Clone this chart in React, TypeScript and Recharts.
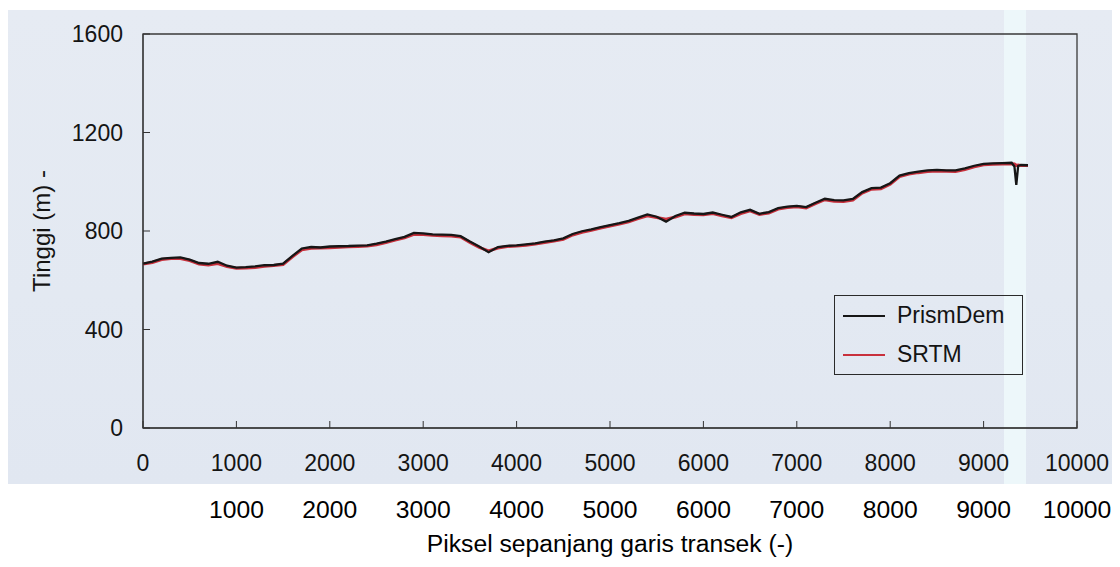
import React from "react";
import { LineChart, Line, XAxis, YAxis, Legend, ReferenceArea } from "recharts";

// pixel index along the transect
const pixels = [
  0, 100, 200, 300, 400, 500, 600, 700, 800, 900,
  1000, 1100, 1200, 1300, 1400, 1500, 1600, 1700, 1800, 1900,
  2000, 2100, 2200, 2300, 2400, 2500, 2600, 2700, 2800, 2900,
  3000, 3100, 3200, 3300, 3400, 3500, 3600, 3700, 3800, 3900,
  4000, 4100, 4200, 4300, 4400, 4500, 4600, 4700, 4800, 4900,
  5000, 5100, 5200, 5300, 5400, 5500, 5600, 5700, 5800, 5900,
  6000, 6100, 6200, 6300, 6400, 6500, 6600, 6700, 6800, 6900,
  7000, 7100, 7200, 7300, 7400, 7500, 7600, 7700, 7800, 7900,
  8000, 8100, 8200, 8300, 8400, 8500, 8600, 8700, 8800, 8900,
  9000, 9100, 9200, 9300, 9330, 9350, 9370, 9400, 9475,
];

const srtm = [
  666, 672, 684, 688, 688, 680, 666, 662, 668, 656,
  649, 650, 652, 657, 660, 664, 695, 724, 730, 731,
  732, 734, 736, 737, 739, 744, 753, 763, 772, 786,
  786, 783, 781, 780, 776, 754, 733, 719, 731, 737,
  739, 742, 747, 753, 759, 766, 784, 795, 803, 812,
  820, 828, 837, 850, 862, 855, 848, 857, 870, 867,
  866, 871, 862, 854, 871, 882, 867, 873, 889, 895,
  898, 894, 911, 927, 921, 920, 926, 954, 970, 972,
  990, 1021, 1031, 1037, 1042, 1044, 1043, 1042, 1050, 1061,
  1069, 1071, 1072, 1073, 1072, 1066, 1068, 1066, 1066,
];

const prismDem = [
  668, 676, 688, 691, 693, 684, 670, 667, 675, 659,
  651, 653, 656, 661, 662, 667, 699, 729, 735, 733,
  737, 738, 739, 741, 742, 749, 757, 767, 776, 792,
  790, 786, 785, 784, 779, 757, 737, 714, 735, 740,
  742, 746, 750, 757, 762, 770, 788, 799, 807, 816,
  824, 832, 841, 854, 867, 858, 838, 861, 874, 871,
  869, 875, 866, 857, 876, 886, 870, 877, 893, 899,
  902, 897, 915, 931, 925, 924, 930, 958, 974, 976,
  994, 1025, 1035, 1041, 1046, 1048, 1046, 1046, 1054, 1065,
  1073, 1075, 1076, 1077, 1062, 987, 1064, 1068, 1067,
];

const xTicks = [0, 1000, 2000, 3000, 4000, 5000, 6000, 7000, 8000, 9000, 10000];
const xTicksLower = [1000, 2000, 3000, 4000, 5000, 6000, 7000, 8000, 9000, 10000];
const yTicks = [0, 400, 800, 1200, 1600];

const legendOrder = ["PrismDem", "SRTM"];

const rows = pixels.map((p, i) => ({ p, srtm: srtm[i], prism: prismDem[i] }));

const FONT = '"Liberation Sans", Arial, Helvetica, sans-serif';

function YLabel({ viewBox }: any) {
  const cy = viewBox.y + viewBox.height / 2;
  return (
    <text
      x={41}
      y={cy}
      transform={`rotate(-90 41 ${cy})`}
      textAnchor="middle"
      dominantBaseline="central"
      fontSize={24}
      fill="#141414"
    >
      Tinggi (m) -
    </text>
  );
}

function LegendBox({ payload }: any) {
  const items = [...(payload || [])].sort(
    (a: any, b: any) => legendOrder.indexOf(a.value) - legendOrder.indexOf(b.value)
  );
  return (
    <div
      style={{
        border: "1.5px solid #2a2a2a",
        width: 189,
        height: 80,
        boxSizing: "border-box",
        fontFamily: FONT,
      }}
    >
      {items.map((it: any) => (
        <div key={it.value} style={{ display: "flex", alignItems: "center", height: 39 }}>
          <span
            style={{
              display: "inline-block",
              width: 42,
              marginLeft: 8,
              marginRight: 12,
              borderTop: `2px solid ${it.color}`,
            }}
          />
          <span style={{ fontSize: 23, color: "#141414", lineHeight: 1 }}>{it.value}</span>
        </div>
      ))}
    </div>
  );
}

export default function App() {
  return (
    <div
      style={{
        position: "absolute",
        left: 0,
        top: 0,
        width: 1120,
        height: 567,
        background: "#ffffff",
        fontFamily: FONT,
      }}
    >
      {/* scanned page tint */}
      <div
        style={{
          position: "absolute",
          left: 8,
          top: 10,
          width: 1104,
          height: 474,
          background: "linear-gradient(180deg, #e6ebf3 0%, #e3e9f2 60%, #e1e7f1 100%)",
        }}
      />
      <div
        style={{
          position: "absolute",
          left: 1004,
          top: 10,
          width: 22,
          height: 474,
          background: "#edf7fa",
        }}
      />
      <div style={{ position: "absolute", left: 0, top: 0 }}>
        <LineChart
          width={1120}
          height={567}
          data={rows}
          margin={{ top: 34, right: 43, bottom: 15, left: 0 }}
        >
          <XAxis
            dataKey="p"
            type="number"
            domain={[0, 10000]}
            ticks={xTicks}
            interval={0}
            height={58}
            stroke="#333"
            tickSize={-7}
            tickMargin={34}
            tick={{ fontSize: 23, fill: "#141414" }}
          />
          <XAxis
            xAxisId="b"
            dataKey="p"
            type="number"
            domain={[0, 10000]}
            ticks={xTicksLower}
            interval={0}
            height={66}
            axisLine={false}
            tickLine={false}
            tickSize={0}
            tickMargin={14}
            tick={{ fontSize: 24.7, fill: "#000" }}
            label={{
              value: "Piksel sepanjang garis transek (-)",
              position: "insideBottom",
              offset: 0,
              fontSize: 24.7,
              fill: "#000",
            }}
          />
          <YAxis
            type="number"
            domain={[0, 1600]}
            ticks={yTicks}
            interval={0}
            width={143}
            stroke="#333"
            tickSize={-7}
            tickMargin={27}
            tick={{ fontSize: 23, fill: "#141414" }}
            label={<YLabel />}
          />
          <ReferenceArea
            x1={0}
            x2={10000}
            y1={0}
            y2={1600}
            fill="none"
            stroke="#3a3a3a"
            strokeWidth={1.3}
          />
          <Line
            dataKey="srtm"
            name="SRTM"
            stroke="#c8303c"
            strokeWidth={3}
            dot={false}
            type="linear"
            isAnimationActive={false}
          />
          <Line
            dataKey="prism"
            name="PrismDem"
            stroke="#161616"
            strokeWidth={2.3}
            dot={false}
            type="linear"
            isAnimationActive={false}
          />
          <Legend
            layout="vertical"
            align="center"
            verticalAlign="middle"
            content={<LegendBox />}
            wrapperStyle={{ left: 834, top: 295, width: 189 }}
          />
        </LineChart>
      </div>
    </div>
  );
}
